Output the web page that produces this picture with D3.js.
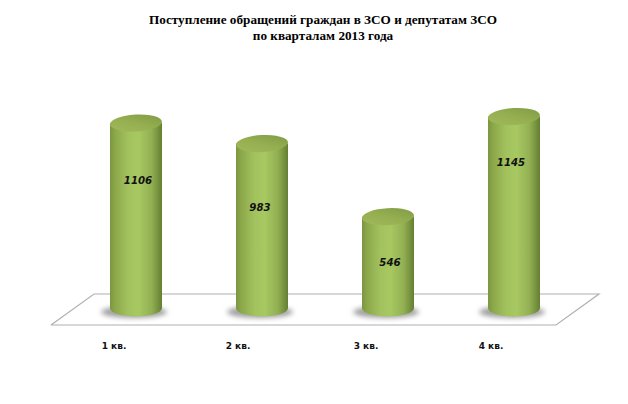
<!DOCTYPE html>
<html><head><meta charset="utf-8">
<script src="https://cdn.jsdelivr.net/npm/d3@7"></script>
<style>html,body{margin:0;padding:0;background:#fff}svg{display:block}</style>
</head><body><svg id="c" width="628" height="404"></svg>
<script>
const categories = ["1 кв.", "2 кв.", "3 кв.", "4 кв."];
const values = [1106, 983, 546, 1145];
const titleLines = ["Поступление обращений граждан в ЗСО и депутатам ЗСО", "по кварталам 2013 года"];

const svg = d3.select("#c");
const base = 308, rx = 26, ry = 8.5;
const x = d3.scaleBand().domain(categories).range([73, 577]).padding(0);
const y = d3.scaleLinear().domain([0, 1145]).range([base, 116.5]);
const cx = c => x(c) + x.bandwidth() / 2;

const defs = svg.append("defs");
const body = defs.append("linearGradient").attr("id", "body");
[[0,"#7b9640"],[.1,"#8cA84a"],[.35,"#a2c25e"],[.55,"#a8c862"],[.8,"#92b052"],[.94,"#728e3c"],[1,"#647f32"]]
  .forEach(([o,c]) => body.append("stop").attr("offset", o).attr("stop-color", c));
const top_ = defs.append("linearGradient").attr("id", "top").attr("x1",0).attr("x2",1).attr("y1",1).attr("y2",0);
[[0,"#a0ba5c"],[.5,"#94ae50"],[1,"#7f9a44"]]
  .forEach(([o,c]) => top_.append("stop").attr("offset", o).attr("stop-color", c));
defs.append("filter").attr("id","blur").attr("x","-30%").attr("y","-60%").attr("width","160%").attr("height","220%")
  .append("feGaussianBlur").attr("stdDeviation", 2.5);

// floor
svg.append("path")
  .attr("d", d3.line()([[51,325],[94,294],[599,294],[556,325],[51,325]]))
  .attr("fill", "none").attr("stroke", "#b0b0b0").attr("stroke-width", 1.2);

const g = svg.selectAll("g.bar").data(categories.map((c,i)=>({c, v:values[i], i}))).join("g").attr("class","bar");

// floor shadow
g.append("ellipse")
  .attr("cx", d => cx(d.c) - 2).attr("cy", base + 4)
  .attr("rx", rx + 7).attr("ry", 6)
  .attr("fill", "#777").attr("opacity", .7).attr("filter", "url(#blur)");

// cylinder body
g.append("path")
  .attr("d", d => {
    const c = cx(d.c), t = y(d.v);
    return `M${c-rx},${t}L${c-rx},${base}A${rx},${ry} 0 0 0 ${c+rx},${base}L${c+rx},${t}Z`;
  })
  .attr("fill", "url(#body)");

// cylinder top
g.append("ellipse")
  .attr("cx", d => cx(d.c)).attr("cy", d => y(d.v))
  .attr("rx", rx).attr("ry", ry)
  .attr("transform", d => `rotate(-3 ${cx(d.c)} ${y(d.v)})`)
  .attr("fill", "url(#top)");

// value labels: per-bar placement within the column
const labelFraction = [0.69, 0.615, 0.5, 0.76];
const labelShift = [2, -2, 2, -3];
g.append("text")
  .attr("x", d => cx(d.c) + labelShift[d.i])
  .attr("y", d => y(d.v * labelFraction[d.i]) + 4)
  .attr("text-anchor", "middle")
  .attr("font-family", "DejaVu Sans").attr("font-size", 10.2)
  .attr("font-weight", "bold").attr("font-style", "italic").attr("fill", "#111")
  .text(d => d.v);

// category labels
const catShift = [-22, -24, -22, -23];
g.append("text")
  .attr("x", d => cx(d.c) + catShift[d.i])
  .attr("y", 349)
  .attr("text-anchor", "middle")
  .attr("font-family", "DejaVu Sans").attr("font-size", 9)
  .attr("font-weight", "bold").attr("fill", "#111")
  .text(d => d.c);

// title
svg.selectAll("text.title").data(titleLines).join("text")
  .attr("class","title")
  .attr("x", 323).attr("y", (d,i) => 24 + i*16)
  .attr("text-anchor","middle")
  .attr("font-family","Liberation Serif").attr("font-size", 13.2)
  .attr("font-weight","bold").attr("fill","#000")
  .text(d => d);
</script></body></html>
